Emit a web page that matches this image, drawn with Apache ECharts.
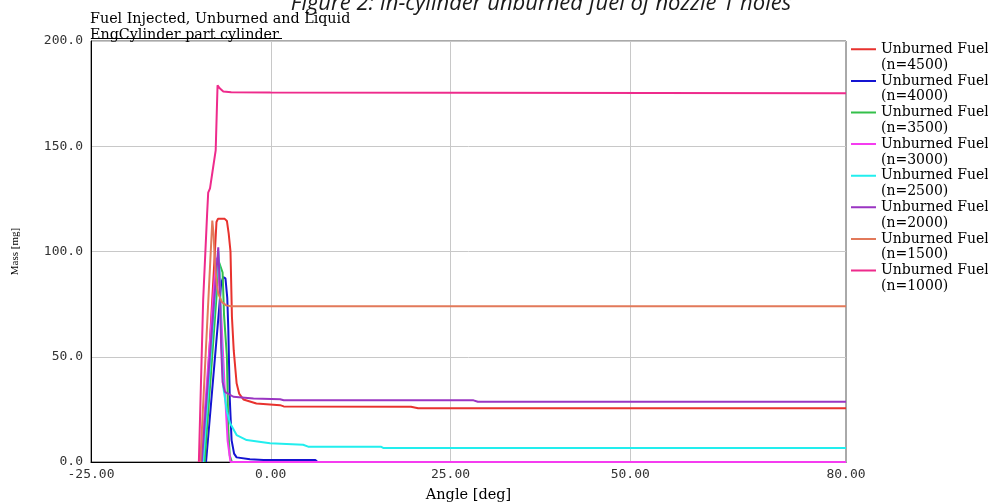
<!DOCTYPE html>
<html>
<head>
<meta charset="utf-8">
<script src="https://cdn.jsdelivr.net/npm/echarts@6/dist/echarts.min.js"></script>
<style>
  html, body { margin: 0; padding: 0; background: #fff; }
  #chart { width: 988px; height: 504px; }
</style>
</head>
<body>
<div id="chart"></div>
<script>
// x ticks / gridlines (crank angle, deg)
const xLabels = [-25, 0, 25, 50, 80]
const xGrid = [0, 25, 50]

// [angle deg, mass mg]
const n4500 = [[-9.4, 0], [-7.76, 100.5], [-7.55, 114], [-7.35, 115.5], [-6.4, 115.5], [-6.1, 114.5], [-5.85, 108.5], [-5.6, 100], [-5.4, 69], [-5.15, 53], [-4.75, 37.4], [-4.4, 32.5], [-3.8, 29.7], [-2.0, 27.8], [1.3, 27.0], [1.8, 26.4], [19.5, 26.2], [20.5, 25.5], [80, 25.5]]
const n4000 = [[-9.0, 0], [-7.2, 72], [-6.9, 85], [-6.6, 87.8], [-6.3, 87.2], [-6.05, 78], [-5.9, 62.6], [-5.7, 30], [-5.45, 10.4], [-5.1, 4], [-4.75, 2.2], [-2.9, 1.3], [-1, 1.0], [6.2, 0.9], [6.5, 0], [80, 0]]
const n3500 = [[-9.2, 0], [-7.2, 95], [-6.7, 90], [-6.5, 70], [-6.1, 50], [-5.9, 15], [-5.7, 3], [-5.4, 0], [80, 0]]
const n3000 = [[-9.7, 0], [-7.6, 97], [-7.3, 92], [-6.9, 70], [-6.4, 35], [-6.0, 10], [-5.6, 0], [80, 0]]
const n2500 = [[-9.4, 0], [-7.3, 100], [-7.1, 90], [-6.9, 60], [-6.6, 35.7], [-6.1, 24], [-5.67, 18.5], [-4.75, 12.8], [-3.35, 10.4], [-0.1, 8.9], [4.5, 8.2], [5.2, 7.3], [15.3, 7.3], [15.7, 6.6], [80, 6.6]]
const n2000 = [[-9.6, 0], [-7.3, 102], [-7.1, 85], [-6.9, 55], [-6.7, 38], [-6.37, 33.3], [-5.2, 31], [-2.4, 30.2], [1.3, 29.8], [1.8, 29.3], [28.2, 29.3], [28.8, 28.6], [80, 28.6]]
const n1500 = [[-9.8, 0], [-8.13, 114.7], [-7.95, 108], [-7.76, 94], [-7.5, 84], [-7.3, 80], [-6.8, 76], [-6.2, 74.4], [-5.5, 74], [80, 74]]
const n1000 = [[-10.0, 0], [-9.4, 77], [-8.85, 118], [-8.7, 128], [-8.45, 130], [-8.1, 138], [-7.66, 148], [-7.4, 179], [-7.1, 177.5], [-6.6, 176], [-5.5, 175.6], [0, 175.5], [80, 175.2]]

const runs = [
  { rpm: 4500, data: n4500, color: '#e8322e' },
  { rpm: 4000, data: n4000, color: '#1414d2' },
  { rpm: 3500, data: n3500, color: '#34c04a' },
  { rpm: 3000, data: n3000, color: '#f53cf0' },
  { rpm: 2500, data: n2500, color: '#22eeee' },
  { rpm: 2000, data: n2000, color: '#9a35c2' },
  { rpm: 1500, data: n1500, color: '#e2795a' },
  { rpm: 1000, data: n1000, color: '#ee2b8c' },
]

const chart = echarts.init(document.getElementById('chart'))

const serif = 'DejaVu Serif'
const tickFont = 'DejaVu Sans Mono'

// thin bar at the top of the icon box, so it lines up with the first text line
const legendIcon = 'path://M0,0H25V2H0Z M0,18H0.01V18.01H0Z'

chart.setOption({
  animation: false,
  title: [
    {
      text: 'Figure 2: In-cylinder unburned fuel of nozzle 1 holes',
      left: 536,
      top: -12,
      textAlign: 'center',
      textStyle: { fontFamily: 'Open Sans', fontStyle: 'italic', fontSize: 22, fontWeight: 'normal', color: '#1a1a1a' },
    },
    {
      text: 'Fuel Injected, Unburned and Liquid\nEngCylinder part cylinder',
      left: 90,
      top: 11,
      padding: 0,
      textStyle: { fontFamily: serif, fontSize: 14.3, fontWeight: 'normal', color: '#000', lineHeight: 16 },
    },
  ],
  graphic: [
    { type: 'line', shape: { x1: 91, y1: 38.5, x2: 282, y2: 38.5 }, style: { stroke: '#000', lineWidth: 1 } },
  ],
  legend: {
    orient: 'vertical',
    left: 851,
    top: 41.5,
    padding: 0,
    icon: legendIcon,
    itemWidth: 25,
    itemHeight: 18,
    itemGap: 0,
    itemStyle: { borderWidth: 0 },
    textStyle: { fontFamily: serif, fontSize: 14, color: '#000', lineHeight: 15.8 },
  },
  grid: {
    left: 91,
    right: 142,
    top: 41,
    bottom: 42,
    outerBoundsMode: 'none',
    show: true,
    borderColor: '#555',
    borderWidth: 1,
  },
  xAxis: {
    type: 'value',
    min: -25,
    max: 80,
    name: 'Angle [deg]',
    nameLocation: 'middle',
    nameGap: 26,
    nameTextStyle: { fontFamily: serif, fontSize: 14.5, color: '#000' },
    axisLine: { onZero: false, lineStyle: { color: '#000', width: 1 } },
    axisTick: { show: false, customValues: xGrid },
    axisLabel: {
      customValues: xLabels,
      margin: 6,
      fontFamily: tickFont,
      fontSize: 13,
      color: '#333',
      formatter: (v) => v.toFixed(2),
    },
    splitLine: { show: true, lineStyle: { color: '#c8c8c8', width: 1 } },
  },
  yAxis: {
    type: 'value',
    min: 0,
    max: 200,
    interval: 50,
    name: 'Mass [mg]',
    nameLocation: 'middle',
    nameGap: 70,
    nameRotate: 90,
    nameTextStyle: { fontFamily: 'Liberation Serif', fontSize: 11, color: '#000' },
    axisLine: { show: true, onZero: false, lineStyle: { color: '#000', width: 1 } },
    axisTick: { show: false },
    axisLabel: {
      margin: 8,
      fontFamily: tickFont,
      fontSize: 13,
      color: '#333',
      formatter: (v) => v.toFixed(1),
    },
    splitLine: { show: true, lineStyle: { color: '#c8c8c8', width: 1 } },
  },
  series: runs.map((r) => ({
    name: 'Unburned Fuel\n(n=' + r.rpm + ')',
    type: 'line',
    data: r.data,
    symbol: 'none',
    color: r.color,
    lineStyle: { color: r.color, width: 2 },
  })),
})
</script>
</body>
</html>
